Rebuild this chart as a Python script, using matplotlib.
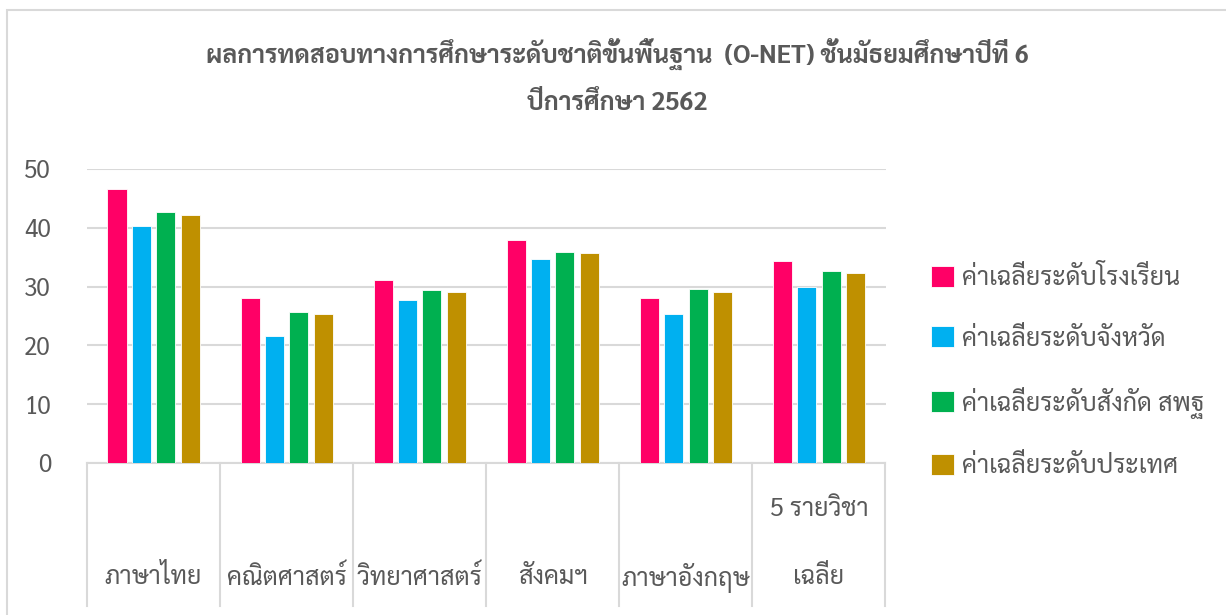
import matplotlib
matplotlib.use("Agg")
import matplotlib.pyplot as plt
import numpy as np
from matplotlib import transforms
from matplotlib.patches import Rectangle
from matplotlib.lines import Line2D

plt.rcParams['font.family'] = ['Sarabun', 'Loma', 'DejaVu Sans']

title_lines = ["ผลการทดสอบทางการศึกษาระดับชาติขั้นพื้นฐาน  (O-NET) ชั้นมัธยมศึกษาปีที่ 6",
               "ปีการศึกษา 2562"]
categories = ["ภาษาไทย", "คณิตศาสตร์", "วิทยาศาสตร์", "สังคมฯ", "ภาษาอังกฤษ", "เฉลี่ย"]
inner_labels = ["", "", "", "", "", "5 รายวิชา"]
series_names = ["ค่าเฉลี่ยระดับโรงเรียน", "ค่าเฉลี่ยระดับจังหวัด",
                "ค่าเฉลี่ยระดับสังกัด สพฐ", "ค่าเฉลี่ยระดับประเทศ"]
school = [46.6, 28.1, 31.1, 38.0, 28.1, 34.3]
province = [40.3, 21.6, 27.7, 34.7, 25.3, 29.9]
obec = [42.7, 25.7, 29.4, 35.9, 29.6, 32.7]
nation = [42.2, 25.3, 29.1, 35.7, 29.1, 32.3]
series = [school, province, obec, nation]
colors = ["#FF0066", "#00B0F0", "#00B050", "#BF9000"]
yticks = [0, 10, 20, 30, 40, 50]

W, H = 1226, 615
fig = plt.figure(figsize=(W / 100, H / 100), dpi=100)
ax = fig.add_axes([87 / W, 1 - 463 / H, (885.5 - 87) / W, (463 - 169) / H])

txtc = "#595959"
gridc = "#D9D9D9"

# outer chart border
fig.patches.append(Rectangle((7 / W, -0.1), 1.2, 1.1 - 10 / H,
                             transform=fig.transFigure, fill=False,
                             edgecolor=gridc, lw=1.5, zorder=0))

x = np.arange(len(categories)) + 0.5
bw = 0.143
step = 0.183
for i, (vals, c, name) in enumerate(zip(series, colors, series_names)):
    ax.bar(x + (i - 1.5) * step, vals, width=bw, color=c, label=name,
           edgecolor="white", linewidth=0.6, zorder=3)

ax.set_xlim(0, len(categories))
ax.set_ylim(0, 50)
ax.set_yticks(yticks)
ax.set_yticklabels([str(t) for t in yticks], fontsize=17.5, color=txtc)
ax.tick_params(axis='y', length=0, pad=26)
ax.set_xticks([])
ax.grid(axis='y', color=gridc, lw=1.5, zorder=0)
for s in ['top', 'right', 'left']:
    ax.spines[s].set_visible(False)
ax.spines['bottom'].set_color(gridc)
ax.spines['bottom'].set_linewidth(1.5)

# category separators and labels
bt = transforms.blended_transform_factory(ax.transData, fig.transFigure)
for k in range(len(categories) + 1):
    fig.lines.append(Line2D([k, k], [1 - 463 / H, 1 - 606 / H], transform=bt,
                            color=gridc, lw=1.5))
for xi, cat, inn in zip(x, categories, inner_labels):
    fig.text(xi, 1 - 578 / H, cat, transform=bt, ha='center', va='center',
             fontsize=18, color=txtc)
    if inn:
        fig.text(xi, 1 - 510 / H, inn, transform=bt, ha='center', va='center',
                 fontsize=18, color=txtc)

# title
fig.text(617 / W, 1 - 55 / H, title_lines[0], ha='center', va='center',
         fontsize=18, fontweight='bold', color=txtc)
fig.text(617 / W, 1 - 104 / H, title_lines[1], ha='center', va='center',
         fontsize=18, fontweight='bold', color=txtc)

# legend
leg = fig.legend(loc='center left', bbox_to_anchor=(931 / W, 1 - 372.5 / H),
                 frameon=False, fontsize=18, labelcolor=txtc,
                 handlelength=0.92, handleheight=0.92, handletextpad=0.32,
                 labelspacing=1.4, borderpad=0, borderaxespad=0)

fig.savefig("out.png", dpi=100, facecolor="white")
